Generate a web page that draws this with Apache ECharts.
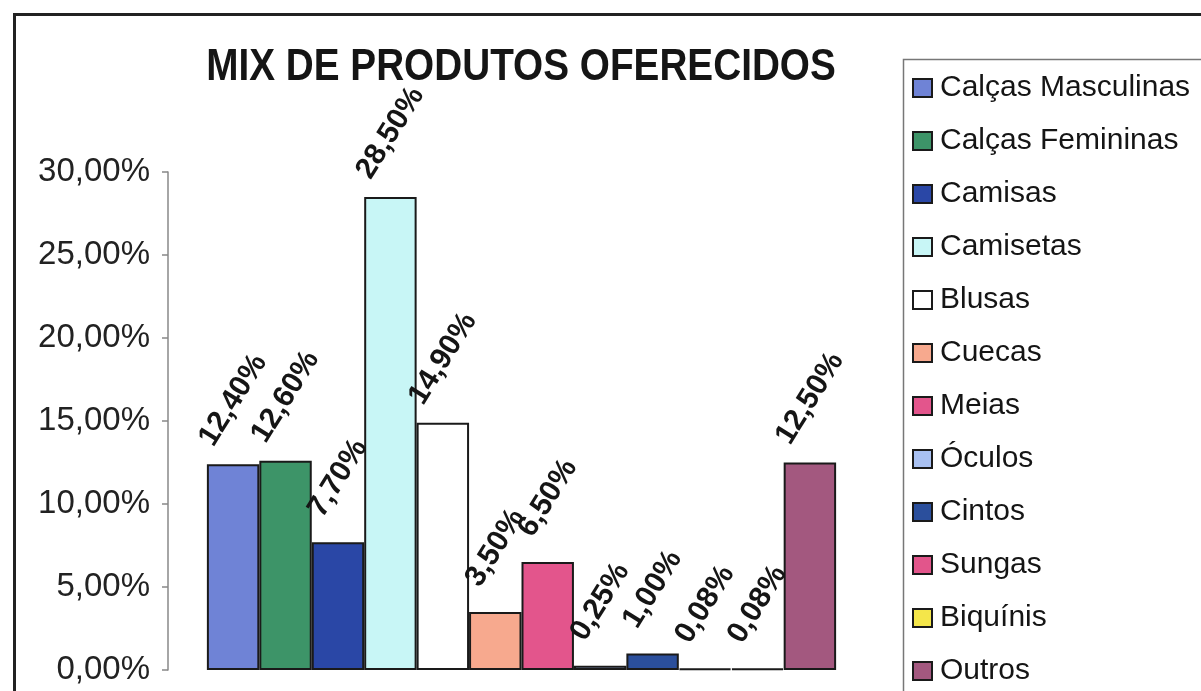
<!DOCTYPE html>
<html>
<head>
<meta charset="utf-8">
<script src="https://cdn.jsdelivr.net/npm/echarts@6/dist/echarts.min.js"></script>
<style>
  html, body { margin: 0; padding: 0; background: #fff; }
  #chart { width: 1201px; height: 691px; }
</style>
</head>
<body>
<div id="chart"></div>
<script>
const titleText = 'MIX DE PRODUTOS OFERECIDOS';
const categories = ['Calças Masculinas', 'Calças Femininas', 'Camisas', 'Camisetas', 'Blusas', 'Cuecas', 'Meias', 'Óculos', 'Cintos', 'Sungas', 'Biquínis', 'Outros'];
const values = [12.40, 12.60, 7.70, 28.50, 14.90, 3.50, 6.50, 0.25, 1.00, 0.08, 0.08, 12.50];
const colors = ['#6f83d6', '#3d9468', '#2a47a6', '#c8f6f6', '#ffffff', '#f7a98e', '#e3558c', '#a9c1f2', '#2b4f9c', '#e2558b', '#f4e64a', '#a3587f'];
const yTicks = { min: 0, max: 30, interval: 5 };

const fmt = v => Number(v).toFixed(2).replace('.', ',') + '%';

const chart = echarts.init(document.getElementById('chart'), null, { renderer: 'canvas' });

const series = categories.map((name, i) => ({
  name: name,
  type: 'bar',
  data: [values[i]],
  barGap: '0%',
  barCategoryGap: '11%',
  itemStyle: { color: colors[i], borderColor: '#1a1a1a', borderWidth: 2 },
  label: {
    show: true,
    position: 'top',
    distance: 64,
    rotate: 58,
    align: 'center',
    verticalAlign: 'middle',
    fontFamily: 'Liberation Sans, Arial, sans-serif',
    fontSize: 30,
    fontWeight: 'bold',
    color: '#151515',
    formatter: p => fmt(p.value)
  }
}));

chart.setOption({
  animation: false,
  backgroundColor: '#ffffff',
  legend: {
    orient: 'vertical',
    left: 901,
    top: 60,
    padding: [13, 20, 0, 11],
    itemGap: 23,
    itemWidth: 19,
    itemHeight: 18,
    icon: 'rect',
    textStyle: {
      fontFamily: 'Liberation Sans, Arial, sans-serif',
      fontSize: 30,
      lineHeight: 30,
      color: '#151515',
      padding: [0, 0, 0, 3]
    },
    data: categories
  },
  graphic: [
    {
      type: 'rect',
      left: 12,
      top: 12,
      shape: { width: 1230, height: 720 },
      style: { fill: 'none', stroke: '#222', lineWidth: 3 },
      silent: true,
      z: 100
    },
    {
      type: 'rect',
      left: 901,
      top: 57,
      shape: { width: 400, height: 700 },
      style: { fill: 'none', stroke: '#777', lineWidth: 1.5 },
      silent: true,
      z: 90
    },
    {
      type: 'text',
      x: 521,
      y: 46,
      scaleX: 0.88,
      style: {
        text: titleText,
        fontFamily: 'Liberation Sans, Arial, sans-serif',
        fontSize: 44,
        fontWeight: 'bold',
        fill: '#151515',
        align: 'center',
        verticalAlign: 'top'
      },
      z: 100
    }
  ],
  grid: { left: 168, right: 326, top: 172, bottom: 21, containLabel: false },
  xAxis: {
    type: 'category',
    data: [''],
    axisLine: { show: false },
    axisTick: { show: false },
    axisLabel: { show: false },
    splitLine: { show: false }
  },
  yAxis: {
    type: 'value',
    min: yTicks.min,
    max: yTicks.max,
    interval: yTicks.interval,
    axisLine: { show: true, lineStyle: { color: '#888', width: 1.5 } },
    axisTick: { show: true, length: 6, lineStyle: { color: '#888', width: 1.5 } },
    splitLine: { show: false },
    axisLabel: {
      margin: 18,
      fontFamily: 'Liberation Sans, Arial, sans-serif',
      fontSize: 33,
      color: '#222',
      formatter: v => fmt(v)
    }
  },
  series: series
});
</script>
</body>
</html>
